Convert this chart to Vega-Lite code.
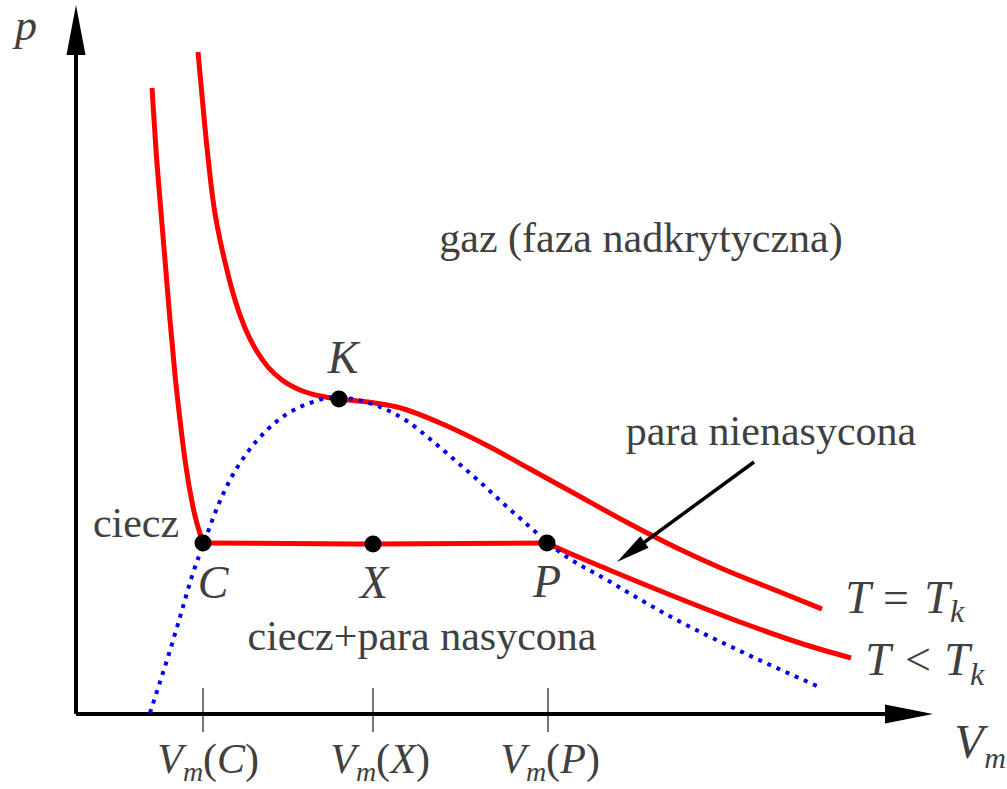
{
  "$schema": "https://vega.github.io/schema/vega-lite/v6.json",
  "width": 1007,
  "height": 789,
  "autosize": {"type": "fit", "contains": "padding"},
  "padding": 0,
  "background": "white",
  "config": {"view": {"stroke": null}},
  "datasets": {
    "axes": [
      {"v": 0, "p": 0, "v2": 0, "p2": 6.6},
      {"v": 0, "p": 0, "v2": 8.12, "p2": 0}
    ],
    "ticks": [
      {"v": 1.27, "p": 0.26, "p2": -0.18},
      {"v": 2.97, "p": 0.26, "p2": -0.18},
      {"v": 4.72, "p": 0.26, "p2": -0.18}
    ],
    "pointer": [
      {"v": 6.78, "p": 2.52, "v2": 5.55, "p2": 1.62}
    ],
    "pointerHead": [{"v": 5.547, "p": 1.62}],
    "yArrow": [{"v": 0, "p": 6.84}],
    "xArrow": [{"v": 8.33, "p": 0}],
    "binodal": [
      {"v": 0.74, "p": 0.01},
      {"v": 0.84, "p": 0.32},
      {"v": 0.92, "p": 0.57},
      {"v": 1.04, "p": 0.97},
      {"v": 1.17, "p": 1.41},
      {"v": 1.29, "p": 1.74},
      {"v": 1.41, "p": 2.06},
      {"v": 1.54, "p": 2.34},
      {"v": 1.71, "p": 2.61},
      {"v": 1.91, "p": 2.84},
      {"v": 2.11, "p": 3.0},
      {"v": 2.34, "p": 3.11},
      {"v": 2.54, "p": 3.16},
      {"v": 2.64, "p": 3.16},
      {"v": 3.04, "p": 3.07},
      {"v": 3.31, "p": 2.93},
      {"v": 3.54, "p": 2.75},
      {"v": 3.81, "p": 2.52},
      {"v": 4.04, "p": 2.32},
      {"v": 4.29, "p": 2.09},
      {"v": 4.54, "p": 1.87},
      {"v": 4.71, "p": 1.72},
      {"v": 4.81, "p": 1.64},
      {"v": 5.31, "p": 1.34},
      {"v": 5.97, "p": 0.96},
      {"v": 6.64, "p": 0.63},
      {"v": 7.41, "p": 0.28}
    ],
    "isotherms": [
      {"curve": "Tk", "v": 1.22, "p": 6.62},
      {"curve": "Tk", "v": 1.29, "p": 5.86},
      {"curve": "Tk", "v": 1.37, "p": 5.14},
      {"curve": "Tk", "v": 1.49, "p": 4.52},
      {"curve": "Tk", "v": 1.59, "p": 4.14},
      {"curve": "Tk", "v": 1.69, "p": 3.86},
      {"curve": "Tk", "v": 1.8, "p": 3.64},
      {"curve": "Tk", "v": 1.92, "p": 3.47},
      {"curve": "Tk", "v": 2.06, "p": 3.34},
      {"curve": "Tk", "v": 2.24, "p": 3.24},
      {"curve": "Tk", "v": 2.44, "p": 3.18},
      {"curve": "Tk", "v": 2.63, "p": 3.15},
      {"curve": "Tk", "v": 2.92, "p": 3.12},
      {"curve": "Tk", "v": 3.21, "p": 3.07},
      {"curve": "Tk", "v": 3.71, "p": 2.88},
      {"curve": "Tk", "v": 4.14, "p": 2.67},
      {"curve": "Tk", "v": 4.54, "p": 2.45},
      {"curve": "Tk", "v": 4.94, "p": 2.23},
      {"curve": "Tk", "v": 5.54, "p": 1.9},
      {"curve": "Tk", "v": 6.01, "p": 1.66},
      {"curve": "Tk", "v": 6.47, "p": 1.45},
      {"curve": "Tk", "v": 7.04, "p": 1.22},
      {"curve": "Tk", "v": 7.46, "p": 1.05},
      {"curve": "liquid", "v": 0.76, "p": 6.26},
      {"curve": "liquid", "v": 0.8, "p": 5.64},
      {"curve": "liquid", "v": 0.84, "p": 5.14},
      {"curve": "liquid", "v": 0.89, "p": 4.54},
      {"curve": "liquid", "v": 0.94, "p": 3.94},
      {"curve": "liquid", "v": 0.99, "p": 3.39},
      {"curve": "liquid", "v": 1.04, "p": 2.94},
      {"curve": "liquid", "v": 1.09, "p": 2.54},
      {"curve": "liquid", "v": 1.17, "p": 2.07},
      {"curve": "liquid", "v": 1.27, "p": 1.71},
      {"curve": "plateau", "v": 1.27, "p": 1.71},
      {"curve": "plateau", "v": 2.97, "p": 1.7},
      {"curve": "plateau", "v": 4.71, "p": 1.71},
      {"curve": "vapour", "v": 4.71, "p": 1.71},
      {"curve": "vapour", "v": 4.84, "p": 1.65},
      {"curve": "vapour", "v": 5.31, "p": 1.45},
      {"curve": "vapour", "v": 5.97, "p": 1.18},
      {"curve": "vapour", "v": 6.64, "p": 0.92},
      {"curve": "vapour", "v": 7.24, "p": 0.71},
      {"curve": "vapour", "v": 7.75, "p": 0.56}
    ],
    "states": [
      {"name": "C", "v": 1.27, "p": 1.71},
      {"name": "X", "v": 2.97, "p": 1.7},
      {"name": "P", "v": 4.71, "p": 1.71},
      {"name": "K", "v": 2.63, "p": 3.15}
    ],
    "regionLabels": [
      {"t": "gaz (faza nadkrytyczna)", "v": 5.65, "p": 4.62},
      {"t": "para nienasycona", "v": 6.95, "p": 2.69},
      {"t": "ciecz", "v": 0.6, "p": 1.77},
      {"t": "ciecz+para nasycona", "v": 3.46, "p": 0.64}
    ],
    "mathItalic": [
      {"t": "K", "v": 2.67, "p": 3.41},
      {"t": "C", "v": 1.37, "p": 1.16},
      {"t": "X", "v": 2.98, "p": 1.16},
      {"t": "P", "v": 4.71, "p": 1.17},
      {"t": "T", "v": 7.82, "p": 1.01},
      {"t": "T", "v": 8.61, "p": 1.01},
      {"t": "T", "v": 8.02, "p": 0.39},
      {"t": "T", "v": 8.81, "p": 0.39}
    ],
    "mathUpright": [
      {"t": "=", "v": 8.2, "p": 1.01},
      {"t": "<", "v": 8.42, "p": 0.39}
    ],
    "mathSub": [
      {"t": "k", "v": 8.81, "p": 0.92},
      {"t": "k", "v": 9.01, "p": 0.29}
    ],
    "pAxisTitle": [
      {"t": "p", "v": -0.5, "p": 6.74}
    ],
    "vAxisTitle": [
      {"t": "V", "v": 8.93, "p": -0.44}
    ],
    "vAxisSub": [
      {"t": "m", "v": 9.19, "p": -0.54}
    ],
    "tickItalic": [
      {"t": "V", "v": 0.94, "p": -0.59},
      {"t": "C", "v": 1.55, "p": -0.59},
      {"t": "V", "v": 2.67, "p": -0.59},
      {"t": "X", "v": 3.27, "p": -0.59},
      {"t": "V", "v": 4.37, "p": -0.59},
      {"t": "P", "v": 4.97, "p": -0.59}
    ],
    "tickUpright": [
      {"t": "(", "v": 1.34, "p": -0.59},
      {"t": ")", "v": 1.76, "p": -0.59},
      {"t": "(", "v": 3.07, "p": -0.59},
      {"t": ")", "v": 3.47, "p": -0.59},
      {"t": "(", "v": 4.77, "p": -0.59},
      {"t": ")", "v": 5.17, "p": -0.59}
    ],
    "tickSub": [
      {"t": "m", "v": 1.17, "p": -0.67},
      {"t": "m", "v": 2.9, "p": -0.67},
      {"t": "m", "v": 4.6, "p": -0.67}
    ]
  },
  "encoding": {
    "x": {"field": "v", "type": "quantitative", "scale": {"domain": [-0.76, 9.31], "nice": false, "zero": false}, "axis": null},
    "y": {"field": "p", "type": "quantitative", "scale": {"domain": [-0.75, 7.14], "nice": false, "zero": false}, "axis": null}
  },
  "layer": [
    {
      "data": {"name": "ticks"},
      "mark": {"type": "rule", "stroke": "#555555", "strokeWidth": 1.6},
      "encoding": {"y2": {"field": "p2"}}
    },
    {
      "data": {"name": "axes"},
      "mark": {"type": "rule", "stroke": "black", "strokeWidth": 4},
      "encoding": {"x2": {"field": "v2"}, "y2": {"field": "p2"}}
    },
    {
      "data": {"name": "yArrow"},
      "mark": {"type": "point", "shape": "M0,-1L0.38,1L-0.38,1Z", "size": 2500, "filled": true, "color": "black", "opacity": 1, "angle": 0}
    },
    {
      "data": {"name": "xArrow"},
      "mark": {"type": "point", "shape": "M0,-1L0.4,1L-0.4,1Z", "size": 2304, "filled": true, "color": "black", "opacity": 1, "angle": 90}
    },
    {
      "data": {"name": "isotherms"},
      "mark": {"type": "line", "stroke": "#ff0000", "strokeWidth": 5, "interpolate": "monotone"},
      "encoding": {"detail": {"field": "curve", "type": "nominal"}}
    },
    {
      "data": {"name": "binodal"},
      "mark": {"type": "line", "stroke": "#0000ee", "strokeWidth": 4, "strokeDash": [4, 6], "interpolate": "monotone"},
      "encoding": {}
    },
    {
      "data": {"name": "pointer"},
      "mark": {"type": "rule", "stroke": "black", "strokeWidth": 3.5},
      "encoding": {"x2": {"field": "v2"}, "y2": {"field": "p2"}}
    },
    {
      "data": {"name": "pointerHead"},
      "mark": {"type": "point", "shape": "M0,-1L0.41,1L-0.41,1Z", "size": 1156, "filled": true, "color": "black", "opacity": 1, "angle": 234}
    },
    {
      "data": {"name": "states"},
      "mark": {"type": "circle", "size": 290, "color": "black", "opacity": 1}
    },
    {
      "data": {"name": "regionLabels"},
      "mark": {"type": "text", "font": "Liberation Serif", "fontSize": 42, "fill": "#404040", "align": "center", "baseline": "alphabetic"},
      "encoding": {"text": {"field": "t"}}
    },
    {
      "data": {"name": "mathItalic"},
      "mark": {"type": "text", "font": "Liberation Serif", "fontStyle": "italic", "fontSize": 46, "fill": "#404040", "align": "center", "baseline": "alphabetic"},
      "encoding": {"text": {"field": "t"}}
    },
    {
      "data": {"name": "mathUpright"},
      "mark": {"type": "text", "font": "Liberation Serif", "fontSize": 46, "fill": "#404040", "align": "center", "baseline": "alphabetic"},
      "encoding": {"text": {"field": "t"}}
    },
    {
      "data": {"name": "mathSub"},
      "mark": {"type": "text", "font": "Liberation Serif", "fontStyle": "italic", "fontSize": 32, "fill": "#404040", "align": "center", "baseline": "alphabetic"},
      "encoding": {"text": {"field": "t"}}
    },
    {
      "data": {"name": "pAxisTitle"},
      "mark": {"type": "text", "font": "Liberation Serif", "fontStyle": "italic", "fontSize": 44, "fill": "#404040", "align": "center", "baseline": "alphabetic"},
      "encoding": {"text": {"field": "t"}}
    },
    {
      "data": {"name": "vAxisTitle"},
      "mark": {"type": "text", "font": "Liberation Serif", "fontStyle": "italic", "fontSize": 48, "fill": "#404040", "align": "center", "baseline": "alphabetic"},
      "encoding": {"text": {"field": "t"}}
    },
    {
      "data": {"name": "vAxisSub"},
      "mark": {"type": "text", "font": "Liberation Serif", "fontStyle": "italic", "fontSize": 30, "fill": "#404040", "align": "center", "baseline": "alphabetic"},
      "encoding": {"text": {"field": "t"}}
    },
    {
      "data": {"name": "tickItalic"},
      "mark": {"type": "text", "font": "Liberation Serif", "fontStyle": "italic", "fontSize": 42, "fill": "#404040", "align": "center", "baseline": "alphabetic"},
      "encoding": {"text": {"field": "t"}}
    },
    {
      "data": {"name": "tickUpright"},
      "mark": {"type": "text", "font": "Liberation Serif", "fontSize": 42, "fill": "#404040", "align": "center", "baseline": "alphabetic"},
      "encoding": {"text": {"field": "t"}}
    },
    {
      "data": {"name": "tickSub"},
      "mark": {"type": "text", "font": "Liberation Serif", "fontStyle": "italic", "fontSize": 28, "fill": "#404040", "align": "center", "baseline": "alphabetic"},
      "encoding": {"text": {"field": "t"}}
    }
  ]
}
